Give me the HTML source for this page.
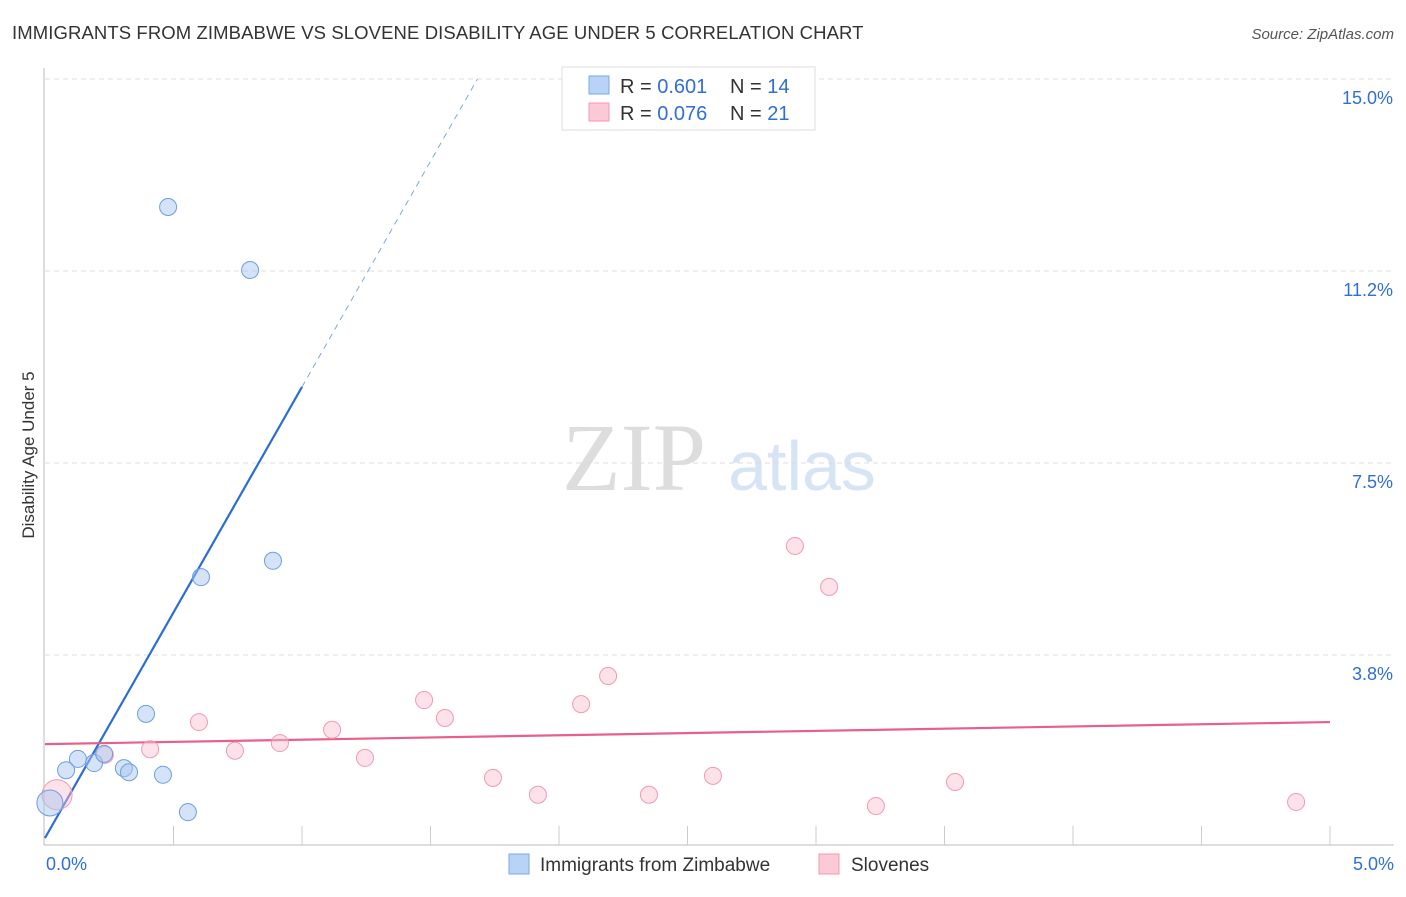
<!DOCTYPE html>
<html><head><meta charset="utf-8"><style>
body{margin:0;background:#fff;font-family:"Liberation Sans",sans-serif;}
</style></head><body>
<svg id="chart" width="1406" height="892" viewBox="0 0 1406 892" xmlns="http://www.w3.org/2000/svg">
<text x="12" y="39" font-size="18.5" letter-spacing="0.1" fill="#333">IMMIGRANTS FROM ZIMBABWE VS SLOVENE DISABILITY AGE UNDER 5 CORRELATION CHART</text>
<text x="1394" y="39" font-size="15" fill="#555" font-style="italic" text-anchor="end">Source: ZipAtlas.com</text>
<text x="34" y="455" font-size="17" fill="#333" text-anchor="middle" transform="rotate(-90 34 455)">Disability Age Under 5</text>
<g>
<text x="634" y="490" font-size="96" fill="#ddd" font-family="Liberation Serif,serif" text-anchor="middle">ZIP</text>
<text x="802" y="490" font-size="70" fill="#d6e4f5" text-anchor="middle">atlas</text>
</g>
<g id="grid"></g><g id="axes"></g><g id="lines"></g><g id="points"></g>
<g>
<rect x="562" y="67" width="253" height="63" fill="#fff" stroke="#ddd"/>
<rect x="589" y="76" width="20" height="18" fill="#b8d3f5" stroke="#7aa8e6"/>
<rect x="589" y="103" width="20" height="18" fill="#fcc9d7" stroke="#f09ab2"/>
<text x="620" y="93" font-size="20" fill="#333">R = <tspan fill="#2f6fd6">0.601</tspan><tspan x="730">N = </tspan><tspan fill="#2f6fd6">14</tspan></text>
<text x="620" y="120" font-size="20" fill="#333">R = <tspan fill="#2f6fd6">0.076</tspan><tspan x="730">N = </tspan><tspan fill="#2f6fd6">21</tspan></text>
</g>
<g>
<rect x="509" y="854" width="20" height="20" fill="#b8d3f5" stroke="#7aa8e6"/>
<text x="540" y="871" font-size="19" fill="#333">Immigrants from Zimbabwe</text>
<rect x="819" y="854" width="20" height="20" fill="#fcc9d7" stroke="#f09ab2"/>
<text x="851" y="871" font-size="19" fill="#333">Slovenes</text>
</g>
</svg>
<script>
const yTicks=[3.75,7.5,11.25,15];
const yTickLabels=["3.8%","7.5%","11.2%","15.0%"];
const xTickLabels=["0.0%","5.0%"];
const zimX=[0.479,0.798,0.607,0.887,0.393,0.128,0.191,0.230,0.307,0.327,0.459,0.556,0.082,0.019];
const zimY=[12.5,11.27,5.27,5.59,2.60,1.72,1.64,1.82,1.54,1.46,1.41,0.68,1.50,0.86];
const sloX=[0.047,0.233,0.409,0.599,0.739,0.914,1.117,1.245,1.475,1.556,1.743,1.918,2.086,2.191,2.350,2.599,2.918,3.051,3.233,3.541,4.868];
const sloY=[1.02,1.80,1.91,2.44,1.88,2.03,2.29,1.74,2.87,2.52,1.35,1.02,2.79,3.34,1.02,1.39,5.88,5.08,0.80,1.27,0.88];
const zimFit=[0.176,8.81];
const sloFit=[2.01,0.086];
const X=v=>45+v/5*1285;
const Y=v=>847-v/3.75*192;
const NS="http://www.w3.org/2000/svg";
function mk(parent,tag,attrs){const e=document.createElementNS(NS,tag);for(const k in attrs)e.setAttribute(k,attrs[k]);document.getElementById(parent).appendChild(e);return e;}
yTicks.forEach((t,i)=>{
 const l=mk('grid','line',{x1:45,x2:1394,y1:Y(t),y2:Y(t),stroke:'#ddd','stroke-dasharray':'5,4'});
 
 
 const tx=mk('grid','text',{x:1393,y:Y(t)+25,'font-size':18,fill:'#2f6fd6','text-anchor':'end'});
 tx.textContent=yTickLabels[i];
 
 
});
mk('axes','line',{x1:44,x2:44,y1:68,y2:845,stroke:'#bbb'});
const xa=mk('axes','line',{x1:44,x2:1394,y1:845,y2:845,stroke:'#bbb'});


for(let i=1;i<=10;i++){const tk=mk('axes','line',{x1:X(i*0.5),x2:X(i*0.5),y1:826,y2:845,stroke:'#ccc'});
 
 }
[[0,'start',46],[5,'end',1394]].forEach((a,i)=>{const t=mk('axes','text',{x:a[2],y:870,'font-size':18,fill:'#2f6fd6','text-anchor':a[1]});t.textContent=xTickLabels[i];
 
 });
const zEnd=(15-zimFit[0])/zimFit[1];
const zl=mk('lines','line',{x1:X(0),y1:Y(zimFit[0]),x2:X(1.0),y2:Y(zimFit[0]+zimFit[1]*1.0),stroke:'#2a6dd4','stroke-width':2.2});


const zd=mk('lines','line',{x1:X(1.0),y1:Y(zimFit[0]+zimFit[1]*1.0),x2:X(zEnd),y2:Y(15),stroke:'#7aa8e6','stroke-width':1,'stroke-dasharray':'6,5'});


const sl=mk('lines','line',{x1:X(0),y1:Y(sloFit[0]),x2:X(5),y2:Y(sloFit[0]+sloFit[1]*5),stroke:'#e8608a','stroke-width':2.2});


sloX.forEach((x,i)=>{const c=mk('points','circle',{cx:X(x),cy:Y(sloY[i]),r:i==0?15:8.5,fill:'rgba(250,190,208,0.45)',stroke:'#f09ab2','stroke-width':1});
 
 });
zimX.forEach((x,i)=>{const c=mk('points','circle',{cx:X(x),cy:Y(zimY[i]),r:i==13?13:8.5,fill:'rgba(170,200,240,0.5)',stroke:'#6c9ee0','stroke-width':1});
 
 });
</script>
</body></html>
